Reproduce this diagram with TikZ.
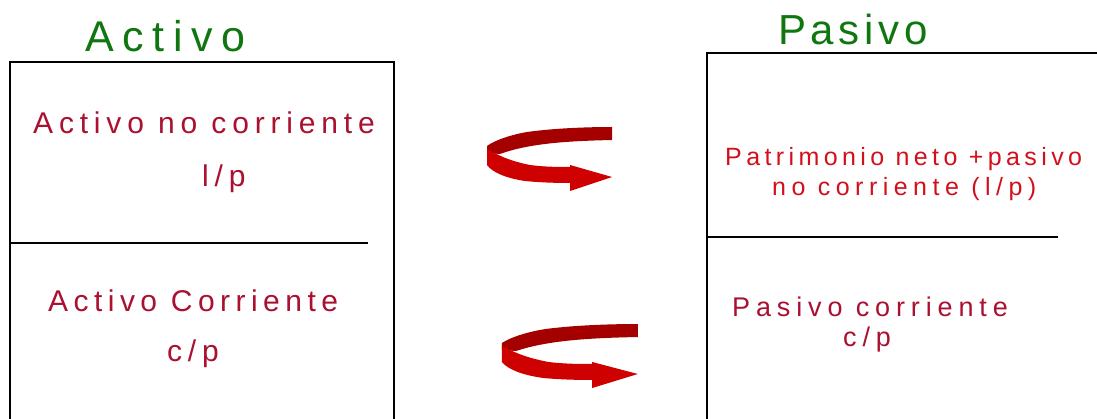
\documentclass[tikz,border=0pt]{standalone}
\usepackage{fontspec}
\setmainfont{Liberation Sans}
\definecolor{titlegreen}{RGB}{16,118,16}
\definecolor{crimson}{RGB}{170,16,48}
\definecolor{brightred}{RGB}{210,16,28}
\definecolor{arrowred}{RGB}{206,0,0}
\definecolor{arrowdark}{RGB}{165,0,0}
\newcommand\curlarrow{%
  \fill[arrowdark] (612,127) -- (612,140) .. controls (570,141) and (530,143) .. (500,154)
     -- (487,153) -- (487,146) .. controls (495,140) and (515,133) .. (535,131)
     .. controls (560,128) and (590,127) .. cycle;
  \fill[arrowred] (487,149) .. controls (495,153) and (505,160) .. (530,165)
     .. controls (545,167) and (560,167) .. (570,167) -- (570,165) -- (612,177)
     -- (570,191) -- (570,183) .. controls (550,183) and (535,182) .. (525,181)
     .. controls (505,178) and (492,172) .. (487,165) -- cycle;
}
\tikzset{
  title/.style={anchor=base west, inner sep=0pt, text=titlegreen,
    font=\fontsize{43}{43}\selectfont\addfontfeatures{LetterSpace=20}},
  leftlabel/.style={anchor=base west, inner sep=0pt, text=crimson,
    font=\fontsize{30}{30}\selectfont\addfontfeatures{LetterSpace=19.4}},
  rightlabel/.style={anchor=base west, inner sep=0pt, text=crimson,
    font=\fontsize{27}{27}\selectfont\addfontfeatures{LetterSpace=21.7}},
  patlabel/.style={anchor=base west, inner sep=0pt, text=brightred,
    font=\fontsize{25}{25}\selectfont\addfontfeatures{LetterSpace=17.6}},
  boxline/.style={line width=1.8pt, black},
}
\begin{document}
\begin{tikzpicture}[x=1pt,y=-1pt]
\useasboundingbox (0,0) rectangle (1097,419);
% left box
\coordinate (ltl) at (10,62); \coordinate (ltr) at (394,62);
\coordinate (lbl) at (10,419); \coordinate (lbr) at (394,419);
\coordinate (ldl) at (10,243); \coordinate (ldr) at (368,243);
\draw[boxline] (lbl) -- (ltl) -- (ltr) -- (lbr);
\draw[boxline] (ldl) -- (ldr);
% right box
\coordinate (rtl) at (707,53); \coordinate (rtr) at (1097,53);
\coordinate (rbl) at (707,419);
\coordinate (rdl) at (707,237); \coordinate (rdr) at (1058,237);
\draw[boxline] (rbl) -- (rtl) -- (rtr);
\draw[boxline] (rdl) -- (rdr);
% titles
\node[title] (tact) at (85,52) {Activo};
\node[title,font=\fontsize{42}{42}\selectfont\addfontfeatures{LetterSpace=11}] (tpas) at (778,45) {Pasivo};
% left labels
\node[leftlabel] (anc) at (33,134) {Activo no corriente};
\node[leftlabel] (alp) at (202,187) {l/p};
\node[leftlabel,font=\fontsize{30}{30}\selectfont\addfontfeatures{LetterSpace=18.2}] (ac) at (48,312) {Activo Corriente};
\node[leftlabel] (acp) at (167,362) {c/p};
% right labels
\node[patlabel] (pat1) at (725,166) {Patrimonio neto +pasivo};
\node[patlabel,font=\fontsize{25}{25}\selectfont\addfontfeatures{LetterSpace=21.9}] (pat2) at (772,196) {no corriente (l/p)};
\node[rightlabel] (pc) at (732,317) {Pasivo corriente};
\node[rightlabel] (pcp) at (843,347) {c/p};
% arrows
\begin{scope}
\curlarrow
\end{scope}
\begin{scope}[shift={(-27.4,197)}, xscale=1.087]
\curlarrow
\end{scope}
\end{tikzpicture}
\end{document}
